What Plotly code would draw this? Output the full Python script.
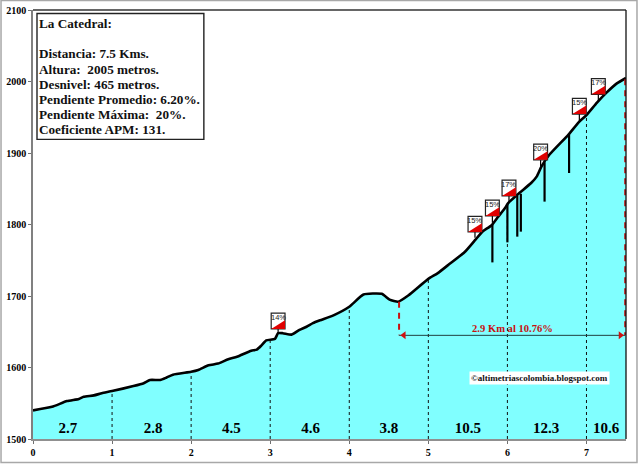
import plotly.graph_objects as go

# Perfil de la subida (km, metros)
dist_km = [0, 0.24, 0.43, 0.58, 0.64, 0.77, 0.87, 1.0, 1.27, 1.40, 1.48, 1.61, 1.69, 1.77, 2.0,
           2.09, 2.22, 2.34, 2.47, 2.58, 2.76, 2.83, 2.89, 2.95, 3.06, 3.10, 3.16, 3.27, 3.37,
           3.46, 3.54, 3.63, 3.80, 4.0, 4.18, 4.41, 4.51, 4.62, 4.75, 5.0, 5.12, 5.27, 5.46,
           5.59, 5.69, 5.80, 5.88, 5.97, 6.01, 6.15, 6.30, 6.37, 6.43, 6.53, 6.77, 6.91, 7.0,
           7.13, 7.25, 7.38, 7.5]
altura = [1540, 1545, 1553, 1556, 1559, 1561, 1564, 1567, 1574, 1578, 1582.5, 1582.5, 1586, 1590, 1594,
          1596.5, 1603, 1605.5, 1611.5, 1615, 1623.5, 1625, 1631, 1638, 1640, 1648, 1648, 1646, 1652.5,
          1657, 1662, 1666, 1673, 1685, 1702, 1703, 1695, 1692, 1701, 1724, 1732, 1745, 1761.5,
          1778, 1790.5, 1799, 1810.5, 1823, 1830, 1844, 1858, 1867, 1881, 1897.5, 1925.5, 1944, 1953,
          1970, 1984, 1997, 2005]

# Pendiente media de cada tramo
tramo_km = [0.44, 1.52, 2.51, 3.51, 4.5, 5.5, 6.49, 7.25]
tramo_txt = ["2.7", "2.8", "4.5", "4.6", "3.8", "10.5", "12.3", "10.6"]

# Lineas punteadas por kilometro
km_marks = [1, 2, 3, 4, 5, 6, 7]
km_alt = [1567, 1594, 1639, 1685, 1724, 1828, 1953]

# Rampas: barras negras gruesas
rampa_km = [5.81, 6.0, 6.125, 6.17, 6.47, 6.78]
rampa_top = [1800, 1828, 1840, 1843, 1887, 1926]
rampa_bottom = [1747, 1775, 1783, 1790, 1832, 1872]

# Banderas de pendiente maxima
flag_km = [3.10, 5.59, 5.81, 6.02, 6.42, 6.91, 7.15]
flag_base = [1654, 1789.5, 1812, 1840, 1890.5, 1954.5, 1982]
flag_stem = [1648, 1781.5, 1802.5, 1830, 1881, 1944, 1972]
flag_txt = ["14%", "15%", "15%", "17%", "20%", "15%", "17%"]

info_lines = ["La Catedral:", "", "Distancia: 7.5 Kms.", "Altura:  2005 metros.", "Desnivel: 465 metros.",
              "Pendiente Promedio: 6.20%.", "Pendiente Máxima:  20%.", "Coeficiente APM: 131."]

FONT = "Liberation Serif"
W, H = 640, 465
L, R, T, B = 32.5, 14, 10, 25.5
FLAG_W = 0.175
FLAG_H = 22


def paper_x(px):
    return (px - L) / (W - L - R)


def paper_y(py):
    return (H - B - py) / (H - T - B)


fig = go.Figure()

fig.add_trace(go.Scatter(x=dist_km, y=altura, mode="lines", fill="tozeroy", fillcolor="#80FFFF",
                         line=dict(color="black", width=2.6, shape="spline", smoothing=0.5)))

# dashed km lines
xs, ys = [], []
for k, a in zip(km_marks, km_alt):
    xs += [k, k, None]
    ys += [1500, a, None]
fig.add_trace(go.Scatter(x=xs, y=ys, mode="lines", line=dict(color="#111111", width=1, dash="3px,3px")))

# steep ramps
xs, ys = [], []
for k, a, b in zip(rampa_km, rampa_top, rampa_bottom):
    xs += [k, k, None]
    ys += [a, b, None]
fig.add_trace(go.Scatter(x=xs, y=ys, mode="lines", line=dict(color="black", width=2.2)))

# flag stems
xs, ys = [], []
for k, a, b in zip(flag_km, flag_base, flag_stem):
    xs += [k, k, None]
    ys += [a, b, None]
fig.add_trace(go.Scatter(x=xs, y=ys, mode="lines", line=dict(color="black", width=1.2)))

# ultimos 2.9 km
fig.add_trace(go.Scatter(x=[4.63, 4.63, None, 7.49, 7.49], y=[1692, 1645, None, 2003, 1645], mode="lines",
                         line=dict(color="#C81010", width=2, dash="6px,5px")))
fig.add_trace(go.Scatter(x=[4.63, 7.49], y=[1645, 1645], mode="lines", line=dict(color="#204040", width=1)))
fig.add_trace(go.Scatter(x=[4.69, 7.43], y=[1645, 1645], mode="markers",
                         marker=dict(color="#D01010", size=7, symbol=["triangle-left", "triangle-right"])))

fig.add_trace(go.Scatter(x=tramo_km, y=[1514] * len(tramo_km), mode="text", text=tramo_txt,
                         textfont=dict(family=FONT, size=15, color="black", weight="bold")))

shapes = []
annotations = []

# flags
for k, b, t in zip(flag_km, flag_base, flag_txt):
    x0, x1 = k - FLAG_W / 2, k + FLAG_W / 2
    y1 = b + FLAG_H
    shapes.append(dict(type="rect", x0=x0, x1=x1, y0=b, y1=y1, fillcolor="white",
                       line=dict(color="#222222", width=1.2), layer="above"))
    shapes.append(dict(type="path", path=f"M {x0} {b} L {x1} {b} L {x1} {b + FLAG_H * 0.55} Z",
                       fillcolor="#E00000", line=dict(width=0), layer="above"))
    annotations.append(dict(x=k, y=b + FLAG_H * 0.74, text=t, showarrow=False,
                            font=dict(family="Liberation Sans", size=7.5, color="#222222")))

# plot frame top/right
shapes.append(dict(type="line", xref="paper", yref="paper", x0=0, x1=1, y0=1, y1=1,
                   line=dict(color="#333333", width=1.3)))
shapes.append(dict(type="line", xref="paper", yref="paper", x0=1, x1=1, y0=0, y1=1,
                   line=dict(color="#111111", width=1.3)))

# outer frame
shapes.append(dict(type="rect", xref="paper", yref="paper", x0=paper_x(0.5), x1=paper_x(637),
                   y0=paper_y(463), y1=paper_y(0.5), line=dict(color="#A8A8A8", width=1.5), layer="below"))

# info box
shapes.append(dict(type="rect", xref="paper", yref="paper", x0=paper_x(36.5), x1=paper_x(203.5),
                   y0=paper_y(139.5), y1=paper_y(13.5), fillcolor="white",
                   line=dict(color="#222222", width=1.4), layer="above"))
line_py = [24, 39, 54, 69.5, 84.5, 99.5, 114.5, 130]
for s, py in zip(info_lines, line_py):
    if s:
        annotations.append(dict(xref="paper", yref="paper", x=paper_x(36.5), y=paper_y(py), text=f"<b>{s}</b>",
                                showarrow=False, xanchor="left", yanchor="middle",
                                font=dict(family=FONT, size=13.2, color="#111111")))

annotations.append(dict(x=6.07, y=1654, text="<b>2.9 Km al 10.76%</b>", showarrow=False,
                        font=dict(family=FONT, size=10.6, color="#C81010")))
annotations.append(dict(x=6.41, y=1586, text="<b>©altimetriascolombia.blogspot.com</b>", showarrow=False,
                        bgcolor="white", font=dict(family=FONT, size=9, color="#111111")))

fig.update_layout(
    width=W, height=H,
    margin=dict(l=L, r=R, t=T, b=B, pad=0, autoexpand=False),
    paper_bgcolor="white", plot_bgcolor="white",
    showlegend=False,
    shapes=shapes, annotations=annotations,
)
fig.update_xaxes(range=[0, 7.5], tickvals=list(range(8)), showgrid=False, zeroline=False,
                 automargin=False, showline=True, linecolor="#909090", linewidth=1.5,
                 ticks="outside", ticklen=3, tickcolor="#707070",
                 tickfont=dict(family=FONT, size=10, color="black", weight="bold"))
fig.update_yaxes(range=[1500, 2100], dtick=100, showgrid=False, zeroline=False,
                 automargin=False, showline=True, linecolor="#808080", linewidth=1.5,
                 ticks="outside", ticklen=3, tickcolor="#707070",
                 tickfont=dict(family=FONT, size=10, color="black", weight="bold"))

fig.write_html("out.html", config=dict(displayModeBar=False),
               post_script="document.body.style.margin='0';")
